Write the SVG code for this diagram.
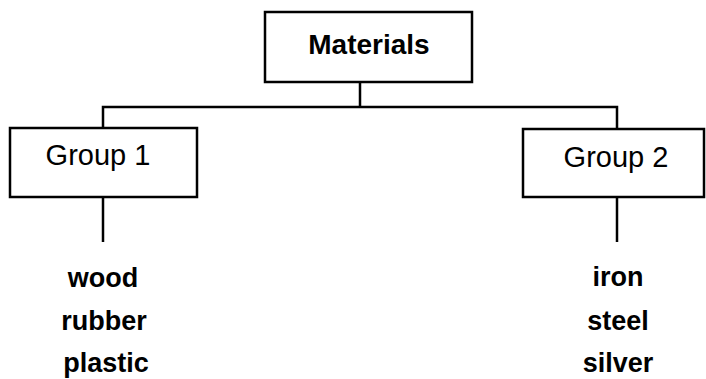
<svg xmlns="http://www.w3.org/2000/svg" width="706" height="379" viewBox="0 0 706 379">
<style>
.box{fill:#fff;stroke:#000;stroke-width:2.5}
.ln{fill:none;stroke:#000;stroke-width:2.5}
.t{font-family:"Liberation Sans",Arial,sans-serif;font-size:29px;fill:#000;text-anchor:middle}
.b{font-weight:bold}
.i{font-family:"Liberation Sans",Arial,sans-serif;font-size:27px;font-weight:bold;fill:#000;text-anchor:middle}
</style>
<rect width="706" height="379" fill="#fff"/>
<g id="connectors">
<path class="ln" d="M360 82 V107 M103 128 V107 H617 V129"/>
<path class="ln" d="M103 197 V242"/>
<path class="ln" d="M617 197 V242"/>
</g>
<g id="materials">
<rect class="box" x="265" y="12" width="207" height="70"/>
<text class="t b" x="369" y="54" style="font-size:28px">Materials</text>
</g>
<g id="group1">
<rect class="box" x="10" y="128" width="187" height="69"/>
<text class="t" x="98" y="165">Group 1</text>
</g>
<g id="group2">
<rect class="box" x="523" y="129" width="181" height="68"/>
<text class="t" x="616" y="167">Group 2</text>
</g>
<g id="items1">
<text class="i" x="103" y="287">wood</text>
<text class="i" x="104" y="330">rubber</text>
<text class="i" x="106" y="372">plastic</text>
</g>
<g id="items2">
<text class="i" x="618" y="286">iron</text>
<text class="i" x="618" y="330">steel</text>
<text class="i" x="618" y="372">silver</text>
</g>
</svg>
